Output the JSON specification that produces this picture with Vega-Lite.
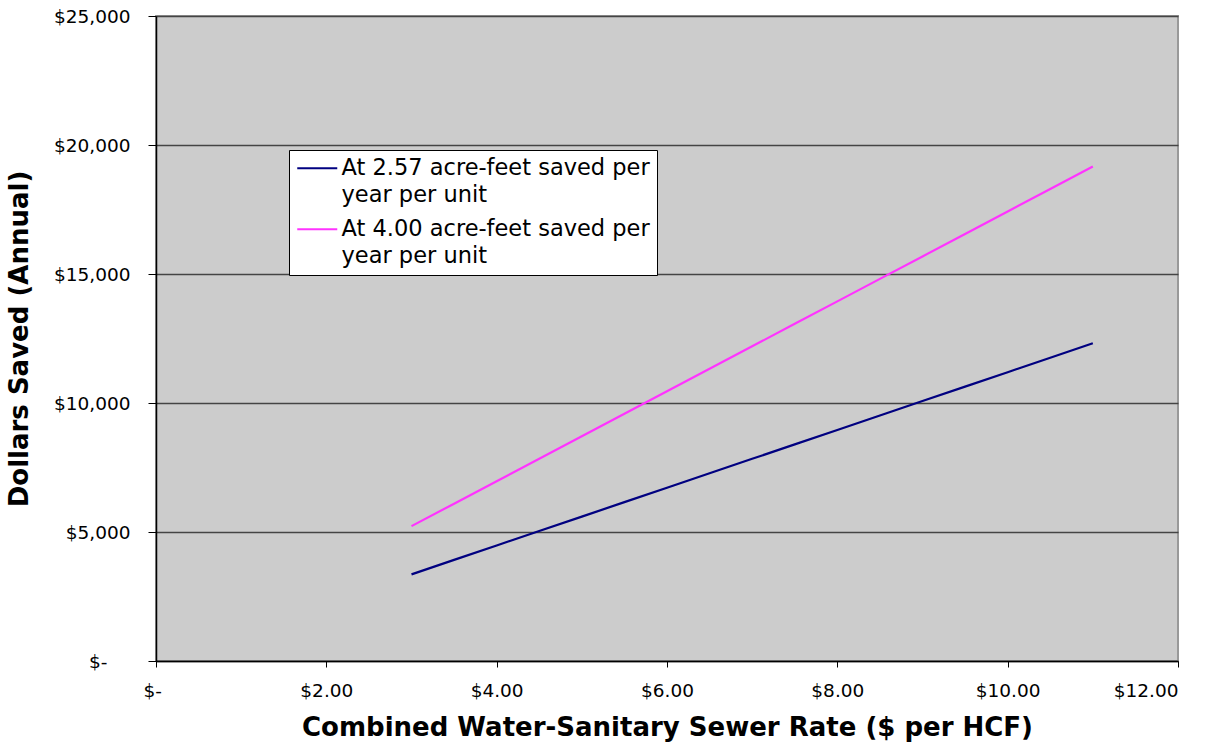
{
  "$schema": "https://vega.github.io/schema/vega-lite/v6.json",
  "width": 1022,
  "height": 645,
  "autosize": {"type": "none"},
  "padding": {"left": 156, "top": 16, "right": 41, "bottom": 81},
  "background": "white",
  "config": {
    "font": "DejaVu Sans",
    "view": {"fill": "#cccccc", "stroke": "#999999", "strokeWidth": 2}
  },
  "data": {
    "values": [
      {"rate": 3.0, "saved": 3358, "series": "At 2.57 acre-feet saved per|year per unit"},
      {"rate": 3.5, "saved": 3918, "series": "At 2.57 acre-feet saved per|year per unit"},
      {"rate": 4.0, "saved": 4478, "series": "At 2.57 acre-feet saved per|year per unit"},
      {"rate": 4.5, "saved": 5038, "series": "At 2.57 acre-feet saved per|year per unit"},
      {"rate": 5.0, "saved": 5597, "series": "At 2.57 acre-feet saved per|year per unit"},
      {"rate": 5.5, "saved": 6157, "series": "At 2.57 acre-feet saved per|year per unit"},
      {"rate": 6.0, "saved": 6717, "series": "At 2.57 acre-feet saved per|year per unit"},
      {"rate": 6.5, "saved": 7277, "series": "At 2.57 acre-feet saved per|year per unit"},
      {"rate": 7.0, "saved": 7836, "series": "At 2.57 acre-feet saved per|year per unit"},
      {"rate": 7.5, "saved": 8396, "series": "At 2.57 acre-feet saved per|year per unit"},
      {"rate": 8.0, "saved": 8956, "series": "At 2.57 acre-feet saved per|year per unit"},
      {"rate": 8.5, "saved": 9516, "series": "At 2.57 acre-feet saved per|year per unit"},
      {"rate": 9.0, "saved": 10075, "series": "At 2.57 acre-feet saved per|year per unit"},
      {"rate": 9.5, "saved": 10635, "series": "At 2.57 acre-feet saved per|year per unit"},
      {"rate": 10.0, "saved": 11195, "series": "At 2.57 acre-feet saved per|year per unit"},
      {"rate": 10.5, "saved": 11755, "series": "At 2.57 acre-feet saved per|year per unit"},
      {"rate": 11.0, "saved": 12314, "series": "At 2.57 acre-feet saved per|year per unit"},
      {"rate": 3.0, "saved": 5227, "series": "At 4.00 acre-feet saved per|year per unit"},
      {"rate": 3.5, "saved": 6098, "series": "At 4.00 acre-feet saved per|year per unit"},
      {"rate": 4.0, "saved": 6970, "series": "At 4.00 acre-feet saved per|year per unit"},
      {"rate": 4.5, "saved": 7841, "series": "At 4.00 acre-feet saved per|year per unit"},
      {"rate": 5.0, "saved": 8712, "series": "At 4.00 acre-feet saved per|year per unit"},
      {"rate": 5.5, "saved": 9583, "series": "At 4.00 acre-feet saved per|year per unit"},
      {"rate": 6.0, "saved": 10454, "series": "At 4.00 acre-feet saved per|year per unit"},
      {"rate": 6.5, "saved": 11326, "series": "At 4.00 acre-feet saved per|year per unit"},
      {"rate": 7.0, "saved": 12197, "series": "At 4.00 acre-feet saved per|year per unit"},
      {"rate": 7.5, "saved": 13068, "series": "At 4.00 acre-feet saved per|year per unit"},
      {"rate": 8.0, "saved": 13939, "series": "At 4.00 acre-feet saved per|year per unit"},
      {"rate": 8.5, "saved": 14810, "series": "At 4.00 acre-feet saved per|year per unit"},
      {"rate": 9.0, "saved": 15682, "series": "At 4.00 acre-feet saved per|year per unit"},
      {"rate": 9.5, "saved": 16553, "series": "At 4.00 acre-feet saved per|year per unit"},
      {"rate": 10.0, "saved": 17424, "series": "At 4.00 acre-feet saved per|year per unit"},
      {"rate": 10.5, "saved": 18295, "series": "At 4.00 acre-feet saved per|year per unit"},
      {"rate": 11.0, "saved": 19166, "series": "At 4.00 acre-feet saved per|year per unit"}
    ]
  },
  "mark": {"type": "line", "strokeWidth": 2.2},
  "encoding": {
    "x": {
      "field": "rate",
      "type": "quantitative",
      "scale": {"domain": [0, 12], "nice": false, "zero": true},
      "axis": {
        "title": "Combined Water-Sanitary Sewer Rate ($ per HCF)",
        "titleFontSize": 26,
        "titleFontWeight": "bold",
        "titleColor": "black",
        "titlePadding": 15,
        "values": [0, 2, 4, 6, 8, 10, 12],
        "labelExpr": "datum.value == 0 ? '$-' : '$' + format(datum.value, '.2f')",
        "labelOffset": {"condition": {"test": "datum.value == 0", "value": -13}, "value": 0},
        "labelFontSize": 18.5,
        "labelColor": "black",
        "labelPadding": 14,
        "tickSize": 6,
        "tickColor": "black",
        "domainColor": "black",
        "domainWidth": 1.5,
        "grid": false
      }
    },
    "y": {
      "field": "saved",
      "type": "quantitative",
      "scale": {"domain": [0, 25000], "nice": false},
      "axis": {
        "title": "Dollars Saved (Annual)",
        "titleFontSize": 26,
        "titleFontWeight": "bold",
        "titleColor": "black",
        "titlePadding": 21,
        "values": [0, 5000, 10000, 15000, 20000, 25000],
        "labelExpr": "datum.value == 0 ? '$-' : '$' + format(datum.value, ',')",
        "labelPadding": {"condition": {"test": "datum.value == 0", "value": 41}, "value": 18},
        "labelFontSize": 18.5,
        "labelColor": "black",
        "tickSize": 8,
        "tickColor": "black",
        "domainColor": "black",
        "domainWidth": 1.5,
        "grid": true,
        "gridColor": "#444444",
        "gridWidth": 1.3
      }
    },
    "color": {
      "field": "series",
      "type": "nominal",
      "scale": {"range": ["#000080", "#ff33ff"]},
      "legend": {
        "title": null,
        "orient": "none",
        "legendX": 133,
        "legendY": 134,
        "fillColor": "white",
        "strokeColor": "black",
        "padding": 7,
        "symbolType": "M-1,0H3",
        "symbolSize": 400,
        "symbolStrokeWidth": 2,
        "labelFontSize": 22.5,
        "labelColor": "black",
        "labelLimit": 500,
        "labelOffset": 23,
        "rowPadding": 11,
        "labelExpr": "split(datum.label, '|')",
        "encode": {"labels": {"update": {"lineHeight": {"value": 27}}}}
      }
    }
  }
}
